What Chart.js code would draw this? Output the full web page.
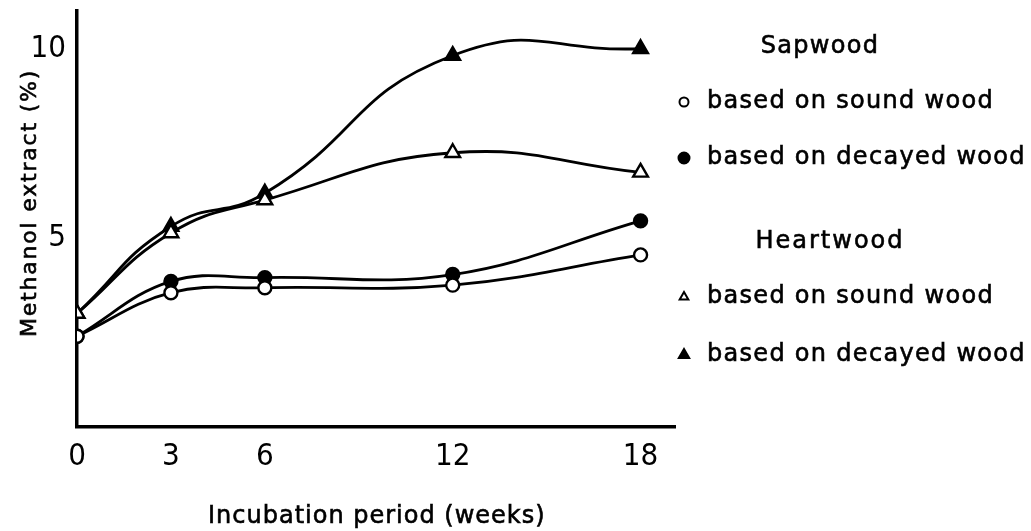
<!DOCTYPE html>
<html><head><meta charset="utf-8">
<script src="https://cdn.jsdelivr.net/npm/chart.js@4.4.1/dist/chart.umd.min.js"></script>
<style>html,body{margin:0;padding:0;background:#fff;overflow:hidden}#wrap{width:1031px;height:531px;position:relative}</style>
</head><body><div id="wrap"><canvas id="c" width="1031" height="531"></canvas></div>
<script>
const weeks = [0, 3, 6, 12, 18];
const sapSound = [2.4, 3.55, 3.68, 3.75, 4.55];
const sapDecayed = [2.4, 3.85, 3.95, 4.03, 5.45];
const heartSound = [3.0, 5.13, 6.0, 7.25, 6.73];
const heartDecayed = [3.0, 5.3, 6.18, 9.82, 10.0];
const xTicks = [0, 3, 6, 12, 18];
const yTicks = [5, 10];
const xTitle = 'Incubation period (weeks)';
const yTitle = 'Methanol extract (%)';
const legendGroups = ['Sapwood', 'Heartwood'];
const legendLabels = ['based on sound wood', 'based on decayed wood', 'based on sound wood', 'based on decayed wood'];

const pts = arr => weeks.map((w, i) => ({x: w, y: arr[i]}));
const mk = (label, arr, style, filled, r, t) => ({
  label, data: pts(arr), borderColor: '#000', borderWidth: 2.8, tension: t,
  pointStyle: style, pointRadius: r, pointBorderWidth: 2.4,
  pointBackgroundColor: filled ? '#000' : '#fff', pointBorderColor: '#000',
  backgroundColor: filled ? '#000' : '#fff', fill: false
});

function boldText(ctx, s, x, y) {
  ctx.fillText(s, x, y);
  ctx.strokeText(s, x, y);
}

const textPlugin = {
  id: 'texts',
  afterDraw(chart) {
    const ctx = chart.ctx;
    ctx.save();
    ctx.fillStyle = '#000';
    ctx.strokeStyle = '#000';
    ctx.lineWidth = 0.6;
    ctx.textBaseline = 'middle';
    ctx.font = '24px "DejaVu Sans", sans-serif';
    ctx.letterSpacing = '1px';
    ctx.textAlign = 'left';
    boldText(ctx, xTitle, 208, 517);
    ctx.save();
    ctx.translate(30, 337);
    ctx.rotate(-Math.PI / 2);
    ctx.font = '22px "DejaVu Sans", sans-serif';
    ctx.letterSpacing = '1.8px';
    boldText(ctx, yTitle, 0, 0);
    ctx.restore();
    ctx.font = '24px "DejaVu Sans", sans-serif';
    ctx.letterSpacing = '1.3px';
    ctx.textAlign = 'center';
    boldText(ctx, legendGroups[0], 820, 47);
    ctx.letterSpacing = '2px';
    boldText(ctx, legendGroups[1], 830, 242);
    ctx.letterSpacing = '1.3px';
    ctx.textAlign = 'left';
    const rows = [102, 158, 297, 355];
    const styles = [['circle', false, 4.5], ['circle', true, 5.5], ['triangle', false, 5], ['triangle', true, 6]];
    rows.forEach((y, i) => {
      ctx.fillStyle = '#000';
      ctx.lineWidth = 0.6;
      boldText(ctx, legendLabels[i], 707, y);
      const [ps, filled, r] = styles[i];
      ctx.fillStyle = filled ? '#000' : '#fff';
      ctx.lineWidth = 2;
      Chart.helpers.drawPoint(ctx, {pointStyle: ps, radius: r, borderWidth: 2, rotation: 0}, 684, y);
    });
    ctx.restore();
  }
};

new Chart(document.getElementById('c'), {
  type: 'line',
  data: {
    datasets: [
      mk('Sapwood sound', sapSound, 'circle', false, 6.5, 0.4),
      mk('Heartwood sound', heartSound, 'triangle', false, 8.5, 0.45),
      mk('Sapwood decayed', sapDecayed, 'circle', true, 6.5, 0.4),
      mk('Heartwood decayed', heartDecayed, 'triangle', true, 8.5, 0.5)
    ]
  },
  options: {
    responsive: false, animation: false, devicePixelRatio: 1,
    layout: {padding: {left: 0, top: 10, right: 356, bottom: 0}},
    plugins: {legend: {display: false}, tooltip: {enabled: false}, title: {display: false}},
    scales: {
      x: {
        type: 'linear', min: 0, max: 19.1,
        afterBuildTicks: s => { s.ticks = xTicks.map(v => ({value: v})); },
        afterFit: s => { s.height = 104; s.paddingLeft = 0; s.paddingRight = 0; },
        grid: {display: false, drawTicks: false},
        border: {display: true, color: '#000', width: 3.5},
        ticks: {color: '#000', padding: 11, maxRotation: 0, autoSkip: false,
          font: {family: '"Liberation Sans Narrow", "DejaVu Sans Condensed", sans-serif', size: 31},
          callback: v => String(v)}
      },
      y: {
        type: 'linear', min: 0, max: 11,
        afterBuildTicks: s => { s.ticks = yTicks.map(v => ({value: v})); },
        afterFit: s => { s.width = 77; s.paddingTop = 0; s.paddingBottom = 0; },
        grid: {display: false, drawTicks: false},
        border: {display: true, color: '#000', width: 3.5},
        ticks: {color: '#000', padding: 11,
          font: {family: '"Liberation Sans Narrow", "DejaVu Sans Condensed", sans-serif', size: 31},
          callback: v => String(v)}
      }
    }
  },
  plugins: [textPlugin]
});
</script></body></html>
